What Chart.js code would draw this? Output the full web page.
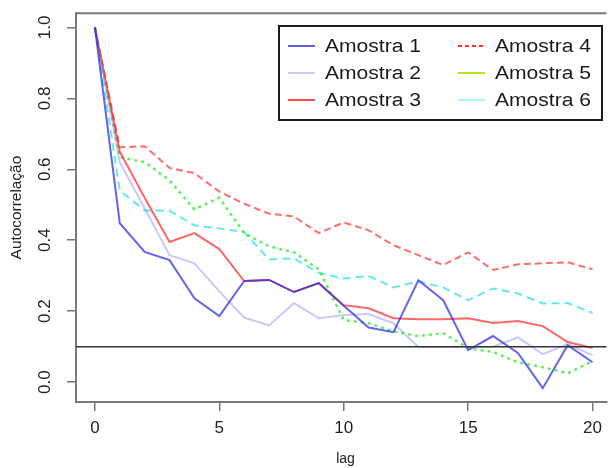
<!DOCTYPE html>
<html>
<head>
<meta charset="utf-8">
<script src="https://cdn.jsdelivr.net/npm/chart.js@4/dist/chart.umd.min.js"></script>
<style>
  html, body { margin: 0; padding: 0; background: #fff; }
  #wrap { width: 609px; height: 468px; }
</style>
</head>
<body>
<div id="wrap"><canvas id="acf" width="609" height="468"></canvas></div>
<script>
// Autocorrelation by lag for six samples
const lags = [0,1,2,3,4,5,6,7,8,9,10,11,12,13,14,15,16,17,18,19,20];
const amostra1 = [1.0,0.448,0.367,0.344,0.236,0.186,0.285,0.288,0.254,0.279,0.215,0.154,0.141,0.287,0.231,0.090,0.130,0.082,-0.017,0.104,0.056];
const amostra2 = [1.0,0.620,0.490,0.358,0.335,0.256,0.182,0.160,0.223,0.180,0.189,0.192,0.166,0.099,0.099,0.099,0.100,0.126,0.079,0.107,0.076];
const amostra3 = [1.0,0.650,0.520,0.395,0.420,0.375,0.285,0.288,0.254,0.279,0.217,0.208,0.180,0.177,0.177,0.180,0.167,0.172,0.158,0.113,0.096];
const amostra4 = [1.0,0.662,0.665,0.604,0.589,0.537,0.503,0.475,0.467,0.420,0.450,0.428,0.386,0.358,0.330,0.366,0.316,0.332,0.335,0.338,0.318];
const amostra5 = [1.0,0.634,0.620,0.569,0.487,0.520,0.420,0.383,0.366,0.318,0.175,0.166,0.143,0.130,0.138,0.096,0.085,0.056,0.042,0.025,0.059];
const amostra6 = [1.0,0.540,0.484,0.483,0.442,0.433,0.423,0.346,0.349,0.308,0.292,0.299,0.267,0.284,0.267,0.231,0.264,0.250,0.222,0.223,0.195];
const seriesNames = ['Amostra 1','Amostra 2','Amostra 3','Amostra 4','Amostra 5','Amostra 6'];
const xTicks = [0,5,10,15,20];
const yTicks = [0.0,0.2,0.4,0.6,0.8,1.0];
const limiar = 0.1;

const FONT = '"Liberation Sans", Arial, sans-serif';

const styles = [
  { color: 'rgba(40,40,230,0.72)',  dash: [],     width: 2 },
  { color: 'rgba(120,120,240,0.40)', dash: [],    width: 2 },
  { color: 'rgba(255,30,30,0.68)',  dash: [],     width: 2 },
  { color: 'rgba(255,40,40,0.68)',  dash: [7,4],  width: 2 },
  { color: 'rgba(40,235,40,0.75)',  dash: [3,4],  width: 2.5 },
  { color: 'rgba(40,225,235,0.72)', dash: [8,5],  width: 2 }
];
// legend keys
const legendKeys = [
  { color: '#5d5de6', dash: [] },
  { color: '#c9c9f2', dash: [] },
  { color: '#ff4a4a', dash: [] },
  { color: '#ff3030', dash: [4,3] },
  { color: '#b8e418', dash: [] },
  { color: '#a8f6f6', dash: [] }
];

const allSeries = [amostra1, amostra2, amostra3, amostra4, amostra5, amostra6];
const datasets = allSeries.map((vals, i) => ({
  label: seriesNames[i],
  data: lags.map((l, k) => ({ x: l, y: vals[k] })),
  borderColor: styles[i].color,
  borderDash: styles[i].dash,
  borderWidth: styles[i].width,
  pointRadius: 0,
  tension: 0,
  fill: false
}));

const decor = {
  id: 'decor',
  afterDatasetsDraw(chart) {
    const { ctx, chartArea: a, scales } = chart;
    const y = scales.y.getPixelForValue(limiar);
    ctx.save();
    ctx.strokeStyle = '#333';
    ctx.lineWidth = 1.5;
    ctx.beginPath();
    ctx.moveTo(a.left, y);
    ctx.lineTo(a.right, y);
    ctx.stroke();
    ctx.restore();
  },
  afterDraw(chart) {
    const { ctx, chartArea: a, scales } = chart;
    ctx.save();
    // top frame edge
    ctx.strokeStyle = '#7a7a7a';
    ctx.lineWidth = 2;
    ctx.beginPath();
    ctx.moveTo(a.left - 1, a.top);
    ctx.lineTo(a.right, a.top);
    ctx.stroke();

    // rotated y tick labels
    ctx.fillStyle = '#222';
    ctx.font = '17px ' + FONT;
    ctx.textAlign = 'center';
    ctx.textBaseline = 'middle';
    yTicks.forEach(v => {
      const py = scales.y.getPixelForValue(v);
      ctx.save();
      ctx.translate(45, py);
      ctx.rotate(-Math.PI / 2);
      ctx.fillText(v.toFixed(1), 0, 0);
      ctx.restore();
    });

    // axis titles
    ctx.font = '14px ' + FONT;
    ctx.fillText('lag', (a.left + 615) / 2, 459);
    ctx.save();
    ctx.translate(17, (a.top + a.bottom) / 2);
    ctx.rotate(-Math.PI / 2);
    ctx.scale(1.1, 1);
    ctx.fillText('Autocorrelação', 0, 0);
    ctx.restore();

    // legend
    const bx = 279, by = 26, bw = 323, bh = 94;
    ctx.fillStyle = '#fff';
    ctx.fillRect(bx, by, bw, bh);
    ctx.strokeStyle = '#1a1a1a';
    ctx.lineWidth = 2;
    ctx.strokeRect(bx, by, bw, bh);
    const rowY = [46, 73, 100];
    const colX = [288, 458];
    ctx.font = '18px ' + FONT;
    ctx.textAlign = 'left';
    seriesNames.forEach((name, i) => {
      const col = Math.floor(i / 3), row = i % 3;
      const x0 = colX[col], yy = rowY[row];
      ctx.save();
      ctx.strokeStyle = legendKeys[i].color;
      ctx.lineWidth = 2;
      ctx.setLineDash(legendKeys[i].dash);
      ctx.beginPath();
      ctx.moveTo(x0, yy);
      ctx.lineTo(x0 + 27, yy);
      ctx.stroke();
      ctx.restore();
      ctx.save();
      ctx.fillStyle = '#1a1a1a';
      ctx.translate(x0 + 37, yy + 1);
      ctx.scale(1.17, 1);
      ctx.fillText(name, 0, 0);
      ctx.restore();
    });
    ctx.restore();
  }
};

new Chart(document.getElementById('acf'), {
  type: 'line',
  data: { datasets },
  plugins: [decor],
  options: {
    responsive: false,
    animation: false,
    devicePixelRatio: 1,
    layout: { padding: { top: 13, right: 0, left: 0, bottom: 0 } },
    plugins: { legend: { display: false }, tooltip: { enabled: false } },
    scales: {
      x: {
        type: 'linear',
        min: -0.76,
        max: 20.56,
        afterBuildTicks: s => { s.ticks = xTicks.map(v => ({ value: v })); },
        afterFit: s => { s.height = 66; },
        grid: { drawOnChartArea: false, drawTicks: true, tickLength: 9, color: '#777', lineWidth: 1.5 },
        border: { display: true, color: '#7a7a7a', width: 2 },
        ticks: {
          autoSkip: false, maxRotation: 0, padding: 7,
          color: '#222', font: { family: FONT, size: 17 },
          callback: v => String(v)
        }
      },
      y: {
        type: 'linear',
        min: -0.056,
        max: 1.04,
        afterBuildTicks: s => { s.ticks = yTicks.map(v => ({ value: v })); },
        afterFit: s => { s.width = 76; },
        grid: { drawOnChartArea: false, drawTicks: true, tickLength: 9, color: '#777', lineWidth: 1.5 },
        border: { display: true, color: '#7a7a7a', width: 2 },
        ticks: { color: 'rgba(0,0,0,0)', font: { family: FONT, size: 17 } }
      }
    }
  }
});
</script>
</body>
</html>
